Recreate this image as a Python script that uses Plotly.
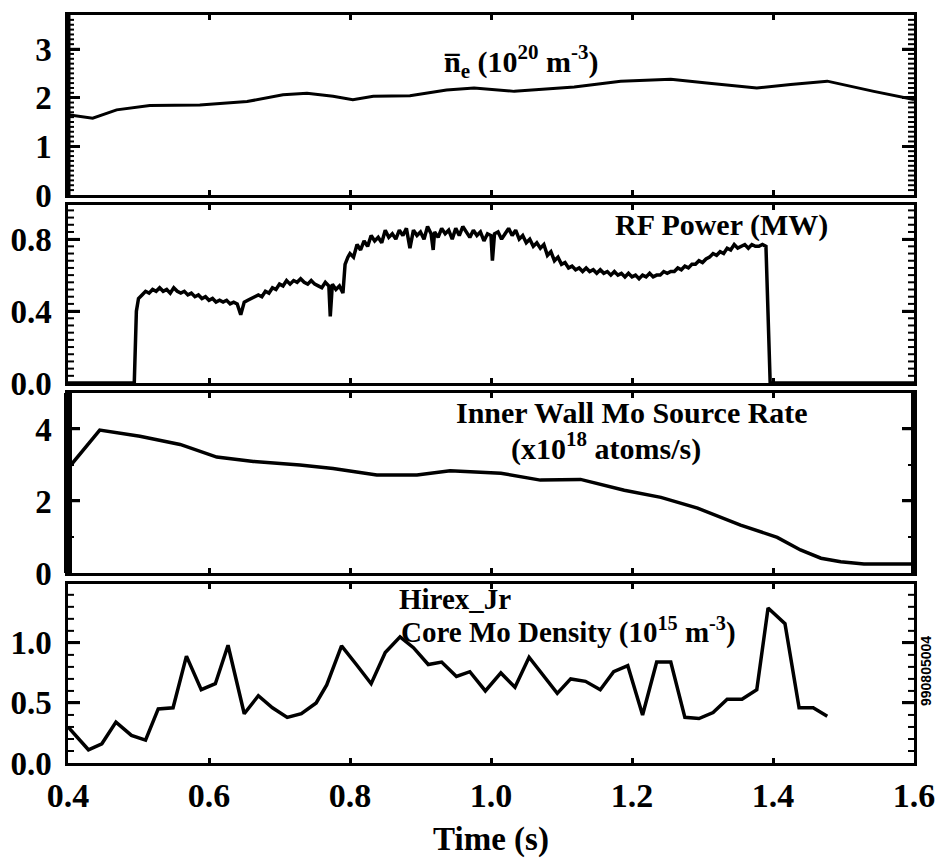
import plotly.graph_objects as go
from plotly.subplots import make_subplots

# panel 1: line averaged density (1e20 m^-3)
ne_t = [0.40, 0.435, 0.469, 0.516, 0.587, 0.654, 0.705, 0.739, 0.776, 0.804, 0.833, 0.885,
        0.937, 0.976, 1.033, 1.118, 1.184, 1.255, 1.306, 1.377, 1.425, 1.477, 1.543, 1.60]
ne_val = [1.65, 1.58, 1.75, 1.84, 1.85, 1.92, 2.06, 2.09, 2.03, 1.96, 2.03, 2.04,
          2.16, 2.20, 2.13, 2.22, 2.34, 2.38, 2.30, 2.20, 2.27, 2.34, 2.13, 1.96]

# panel 2: RF power (MW)
rf_t = [0.40, 0.494, 0.497, 0.500, 0.505, 0.51, 0.515, 0.52, 0.525, 0.53, 0.535, 0.54,
        0.545, 0.55, 0.555, 0.56, 0.565, 0.57, 0.575, 0.58, 0.585, 0.59, 0.595, 0.60,
        0.605, 0.61, 0.615, 0.62, 0.625, 0.63, 0.635, 0.64, 0.645, 0.65, 0.655, 0.66,
        0.665, 0.67, 0.675, 0.68, 0.685, 0.69, 0.695, 0.70, 0.705, 0.71, 0.715, 0.72,
        0.725, 0.73, 0.735, 0.74, 0.745, 0.75, 0.755, 0.76, 0.765, 0.77, 0.772, 0.775,
        0.78, 0.785, 0.79, 0.793, 0.797, 0.80, 0.805, 0.81, 0.815, 0.82, 0.825, 0.83,
        0.835, 0.84, 0.845, 0.85, 0.855, 0.86, 0.865, 0.87, 0.875, 0.88, 0.885, 0.89,
        0.895, 0.90, 0.905, 0.91, 0.915, 0.918, 0.92, 0.925, 0.93, 0.935, 0.94, 0.945,
        0.95, 0.955, 0.96, 0.965, 0.97, 0.975, 0.98, 0.985, 0.99, 0.995, 1.00, 1.002,
        1.005, 1.01, 1.015, 1.02, 1.025, 1.03, 1.035, 1.04, 1.045, 1.05, 1.055, 1.06,
        1.065, 1.07, 1.075, 1.08, 1.085, 1.09, 1.095, 1.10, 1.105, 1.11, 1.115, 1.12,
        1.125, 1.13, 1.135, 1.14, 1.145, 1.15, 1.155, 1.16, 1.165, 1.17, 1.175, 1.18,
        1.185, 1.19, 1.195, 1.20, 1.205, 1.21, 1.215, 1.22, 1.225, 1.23, 1.235, 1.24,
        1.245, 1.25, 1.255, 1.26, 1.265, 1.27, 1.275, 1.28, 1.285, 1.29, 1.295, 1.30,
        1.305, 1.31, 1.315, 1.32, 1.325, 1.33, 1.335, 1.34, 1.345, 1.35, 1.355, 1.36,
        1.365, 1.37, 1.375, 1.38, 1.385, 1.39, 1.396, 1.60]
rf_val = [0.0, 0.0, 0.40, 0.47, 0.49, 0.51, 0.50, 0.52, 0.51, 0.53, 0.51, 0.52,
          0.50, 0.53, 0.51, 0.50, 0.51, 0.49, 0.50, 0.48, 0.49, 0.47, 0.48, 0.46,
          0.47, 0.45, 0.46, 0.45, 0.46, 0.44, 0.45, 0.44, 0.38, 0.45, 0.46, 0.47,
          0.48, 0.49, 0.48, 0.51, 0.50, 0.53, 0.52, 0.55, 0.54, 0.57, 0.55, 0.57,
          0.56, 0.58, 0.56, 0.55, 0.57, 0.55, 0.54, 0.53, 0.56, 0.54, 0.37, 0.55,
          0.52, 0.54, 0.50, 0.66, 0.70, 0.72, 0.70, 0.77, 0.74, 0.79, 0.76, 0.82,
          0.79, 0.81, 0.78, 0.85, 0.81, 0.83, 0.80, 0.85, 0.82, 0.86, 0.75, 0.85,
          0.82, 0.84, 0.80, 0.87, 0.83, 0.74, 0.84, 0.81, 0.86, 0.83, 0.85, 0.80,
          0.86, 0.82, 0.87, 0.84, 0.81, 0.85, 0.82, 0.84, 0.79, 0.83, 0.82, 0.68,
          0.83, 0.84, 0.80, 0.83, 0.86, 0.82, 0.85, 0.80, 0.82, 0.78, 0.80, 0.76,
          0.78, 0.75, 0.77, 0.71, 0.73, 0.68, 0.70, 0.66, 0.67, 0.64, 0.65, 0.63,
          0.64, 0.62, 0.64, 0.62, 0.63, 0.61, 0.63, 0.61, 0.62, 0.60, 0.62, 0.60,
          0.61, 0.59, 0.61, 0.59, 0.60, 0.58, 0.60, 0.59, 0.61, 0.59, 0.60, 0.60,
          0.62, 0.61, 0.62, 0.62, 0.64, 0.63, 0.65, 0.64, 0.66, 0.66, 0.68, 0.67,
          0.69, 0.70, 0.72, 0.71, 0.73, 0.72, 0.75, 0.74, 0.77, 0.75, 0.76, 0.77,
          0.75, 0.77, 0.76, 0.76, 0.77, 0.76, 0.0, 0.0]

# panel 3: inner wall Mo source rate (1e18 atoms/s)
mo_t = [0.40, 0.445, 0.502, 0.559, 0.611, 0.663, 0.729, 0.776, 0.838, 0.895, 0.942,
        0.976, 1.014, 1.070, 1.127, 1.189, 1.241, 1.293, 1.354, 1.406, 1.439, 1.468,
        1.496, 1.529, 1.60]
mo_val = [2.9, 3.97, 3.80, 3.57, 3.22, 3.10, 3.00, 2.90, 2.72, 2.72, 2.84,
          2.81, 2.77, 2.58, 2.60, 2.30, 2.10, 1.80, 1.33, 0.99, 0.64, 0.41,
          0.31, 0.25, 0.25]

# panel 4: Hirex_Jr core Mo density (1e15 m^-3)
hx_t = [0.40, 0.429, 0.448, 0.468, 0.490, 0.510, 0.528, 0.549, 0.568, 0.589, 0.609,
        0.627, 0.650, 0.670, 0.690, 0.711, 0.731, 0.752, 0.767, 0.788, 0.809, 0.830,
        0.850, 0.871, 0.890, 0.911, 0.930, 0.951, 0.970, 0.992, 1.014, 1.034, 1.054,
        1.074, 1.094, 1.113, 1.134, 1.155, 1.174, 1.194, 1.215, 1.235, 1.255, 1.275,
        1.295, 1.315, 1.335, 1.356, 1.377, 1.393, 1.417, 1.437, 1.457, 1.477]
hx_val = [0.30, 0.11, 0.16, 0.34, 0.23, 0.19, 0.45, 0.46, 0.89, 0.61, 0.66,
          0.98, 0.41, 0.56, 0.46, 0.38, 0.41, 0.50, 0.65, 0.975, 0.82, 0.66,
          0.92, 1.05, 0.96, 0.82, 0.84, 0.72, 0.76, 0.60, 0.75, 0.63, 0.88,
          0.73, 0.58, 0.70, 0.68, 0.61, 0.76, 0.81, 0.40, 0.84, 0.84, 0.38,
          0.37, 0.42, 0.53, 0.53, 0.61, 1.29, 1.16, 0.46, 0.46, 0.39]

SERIF = "Liberation Serif"

fig = make_subplots(rows=4, cols=1, shared_xaxes=True)
series = [(ne_t, ne_val, 3), (rf_t, rf_val, 3.5), (mo_t, mo_val, 3.5), (hx_t, hx_val, 3.5)]
for i, (t, v, w) in enumerate(series, start=1):
    fig.add_trace(go.Scatter(x=t, y=v, mode="lines", line=dict(color="black", width=w),
                             showlegend=False), row=i, col=1)

domains = [(0.7594, 1.0), (0.508, 0.746), (0.254, 0.4947), (0.0, 0.2393)]
y_ranges = [(0, 3.7), (0, 0.99), (0, 5.0), (0, 1.49)]
y_dtick = [1, 0.4, 2, 0.5]
y_fmt = [".0f", ".1f", ".0f", ".1f"]
y_minor = [0.1, 0.04, 1.0, 0.1]

for i in range(4):
    fig.update_yaxes(
        row=i + 1, col=1,
        domain=domains[i], range=y_ranges[i], automargin=False,
        tickmode="linear", tick0=0, dtick=y_dtick[i], tickformat=y_fmt[i],
        ticksuffix="\u2009",
        ticks="inside", ticklen=12, tickwidth=2.5, tickcolor="black",
        showline=True, linewidth=3, linecolor="black", mirror="ticks",
        showgrid=False, zeroline=False,
        tickfont=dict(family=SERIF, size=33, color="black", weight="bold"),
    )
    fig.update_xaxes(
        row=i + 1, col=1,
        range=[0.4, 1.6], automargin=False,
        tickmode="linear", tick0=0.4, dtick=0.2, tickformat=".1f",
        ticks="inside", ticklen=5, tickwidth=2.5, tickcolor="black",
        showline=True, linewidth=3, linecolor="black", mirror="ticks",
        showgrid=False, zeroline=False,
        showticklabels=(i == 3),
    )

# inward tick marks on both frame edges, drawn as short shapes at the tick values
PLOT_W = 948 - 68 - 34
for i in range(4):
    xr = "x" if i == 0 else f"x{i + 1}"
    yr = "y" if i == 0 else f"y{i + 1}"
    lo, hi = y_ranges[i]
    for step, length, width in [(y_minor[i], 6, 2), (y_dtick[i], 12, 2.5)]:
        n = int(round((hi - lo) / step))
        vals = [round(k * step, 4) for k in range(1, n + 1) if k * step < hi - 1e-9]
        frac = length / PLOT_W
        for v in vals:
            for x0, x1 in [(0, frac), (1 - frac, 1)]:
                fig.add_shape(type="line", xref=f"{xr} domain", yref=yr,
                              x0=x0, x1=x1, y0=v, y1=v,
                              line=dict(color="black", width=width))

fig.update_xaxes(
    row=4, col=1,
    tickfont=dict(family=SERIF, size=34, color="black", weight="bold"),
    title=dict(text="Time (s)", font=dict(family=SERIF, size=33, color="black", weight="bold"),
               standoff=18),
)

# thick frame edges as in the scanned original
for xref, yref, side, w in [("x", "y", 0, 5), ("x3", "y3", 0, 8), ("x3", "y3", 1, 6)]:
    fig.add_shape(type="line", xref=f"{xref} domain", yref=f"{yref} domain",
                  x0=side, x1=side, y0=0, y1=1, line=dict(color="black", width=w))

labels = [
    ("x", "y domain", 0.932, 0.74, "left", 30, "n\u0305<sub>e</sub> (10<sup>20</sup> m<sup>-3</sup>)"),
    ("x2", "y2 domain", 1.174, 0.888, "left", 30, "RF Power (MW)"),
    ("x3", "y3 domain", 1.20, 0.889, "center", 30, "Inner Wall Mo Source Rate"),
    ("x3", "y3 domain", 1.163, 0.70, "center", 30, "(x10<sup>18</sup> atoms/s)"),
    ("x4", "y4 domain", 0.868, 0.915, "left", 29, "Hirex_Jr"),
    ("x4", "y4 domain", 0.871, 0.74, "left", 29, "Core Mo Density (10<sup>15</sup> m<sup>-3</sup>)"),
]
for xr, yr, x, y, anchor, size, text in labels:
    fig.add_annotation(xref=xr, yref=yr, x=x, y=y, xanchor=anchor, yanchor="middle",
                       text=text, showarrow=False, borderpad=0,
                       font=dict(family=SERIF, size=size, color="black", weight="bold"))

fig.add_annotation(xref="paper", yref="paper", x=1.026, y=0.0735, text="990805004",
                   textangle=-90, showarrow=False,
                   font=dict(family="Liberation Sans", size=14, color="black", weight="bold"))

fig.update_layout(
    width=948, height=858,
    margin=dict(l=68, r=34, t=15, b=95),
    paper_bgcolor="white", plot_bgcolor="white",
    font=dict(family=SERIF, color="black"),
    showlegend=False,
)

# drop the page's default body margin so the figure sits at the window corner
fig.write_html("out.html", config={"displayModeBar": False},
               post_script="document.body.style.margin = '0px';")
